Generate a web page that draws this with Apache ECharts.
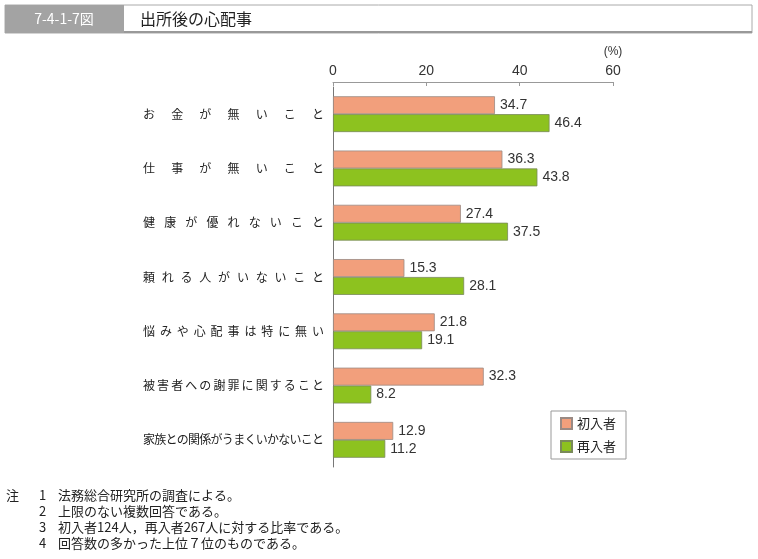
<!DOCTYPE html>
<html><head><meta charset="utf-8">
<script src="https://cdn.jsdelivr.net/npm/echarts@6/dist/echarts.min.js"></script>
<style>html,body{margin:0;padding:0;background:#fff}#c{width:758px;height:559px}</style>
</head><body><div id="c"></div>
<script>
const categories = ['お金が無いこと','仕事が無いこと','健康が優れないこと','頼れる人がいないこと','悩みや心配事は特に無い','被害者への謝罪に関すること','家族との関係がうまくいかないこと'];
const firstTimers = [34.7, 36.3, 27.4, 15.3, 21.8, 32.3, 12.9];
const repeaters = [46.4, 43.8, 37.5, 28.1, 19.1, 8.2, 11.2];
const seriesNames = ['初入者','再入者'];
const xTicks = [0, 20, 40, 60];
const notes = ['法務総合研究所の調査による。','上限のない複数回答である。','初入者124人，再入者267人に対する比率である。','回答数の多かった上位７位のものである。'];

const FONT = '"Noto Sans CJK JP", "Noto Sans", sans-serif';
const NUMFONT = '"Liberation Sans", Arial, sans-serif';
const LABEL_W = 181, CHAR_W = 12;
const rich = { l: { width: CHAR_W, align: 'left', fontSize: 12, fontFamily: FONT, color: '#222' } };
categories.forEach((c, i) => {
  const n = c.length;
  rich['w' + i] = { width: (LABEL_W - CHAR_W) / (n - 1), align: 'left', fontSize: 12, fontFamily: FONT, color: '#222' };
});

const chart = echarts.init(document.getElementById('c'));
const noteGraphics = [];
const NOTEFONT = '13px ' + FONT;
noteGraphics.push({ type: 'text', left: 6, top: 489, style: { text: '注', font: NOTEFONT, fill: '#222' } });
notes.forEach((t, i) => {
  noteGraphics.push({ type: 'text', left: 39, top: 489 + i * 16, style: { text: String(i + 1), font: NOTEFONT, fill: '#222' } });
  noteGraphics.push({ type: 'text', left: 58, top: 489 + i * 16, style: { text: t, font: NOTEFONT, fill: '#222' } });
});

chart.setOption({
  animation: false,
  grid: { left: 333, right: 145, top: 87, bottom: 92 },
  xAxis: {
    type: 'value', position: 'top', offset: 5, min: 0, max: 60, interval: 20,
    axisLine: { show: true, lineStyle: { color: '#999', width: 1 } },
    axisTick: { show: true, inside: true, length: 4, lineStyle: { color: '#999' } },
    axisLabel: { fontSize: 14, color: '#333', fontFamily: NUMFONT, margin: 4,
      formatter: v => xTicks.includes(v) ? String(v) : '' },
    splitLine: { show: false },
    name: '(%)', nameLocation: 'end', nameGap: 0,
    nameTextStyle: { fontSize: 12, color: '#333', fontFamily: NUMFONT, align: 'center', verticalAlign: 'bottom', padding: [0, 0, 24, 0] }
  },
  yAxis: {
    type: 'category', inverse: true, data: categories,
    axisLine: { show: true, lineStyle: { color: '#777', width: 1 } },
    axisTick: { show: false },
    axisLabel: { margin: 9, rich: rich,
      formatter: (v) => {
        const idx = categories.indexOf(v);
        const chars = Array.from(v);
        return chars.map((ch, k) => k < chars.length - 1 ? '{w' + idx + '|' + ch + '}' : '{l|' + ch + '}').join('');
      } }
  },
  legend: {
    orient: 'vertical', left: 551, top: 411, itemWidth: 11, itemHeight: 11, itemGap: 10, icon: 'rect',
    borderColor: '#999', borderWidth: 1, padding: [6, 10, 6, 9],
    textStyle: { fontSize: 13, fontFamily: FONT, color: '#222' },
    data: seriesNames
  },
  series: [
    { name: seriesNames[0], type: 'bar', data: firstTimers, barGap: '0%', barCategoryGap: '34%',
      itemStyle: { color: '#F29F7C', borderColor: '#9a8a84', borderWidth: 0.8 },
      label: { show: true, position: 'right', distance: 5, fontSize: 14, fontFamily: NUMFONT, color: '#333', formatter: p => p.value.toFixed(1) } },
    { name: seriesNames[1], type: 'bar', data: repeaters,
      itemStyle: { color: '#8DC21F', borderColor: '#7a8a5a', borderWidth: 0.8 },
      label: { show: true, position: 'right', distance: 5, fontSize: 14, fontFamily: NUMFONT, color: '#333', formatter: p => p.value.toFixed(1) } }
  ],
  graphic: [
    { type: 'rect', shape: { x: 5, y: 5, width: 747, height: 28 }, style: { fill: '#fff', stroke: '#aaa', lineWidth: 1 } },
    { type: 'rect', shape: { x: 5, y: 31, width: 747, height: 2 }, style: { fill: '#999' } },
    { type: 'rect', shape: { x: 5, y: 5, width: 119, height: 28 }, style: { fill: '#a3a3a3' } },
    { type: 'text', x: 64, y: 19, style: { text: '7-4-1-7図', font: '14px ' + FONT, fill: '#fff', textAlign: 'center', textVerticalAlign: 'middle' } },
    { type: 'text', x: 140, y: 19, style: { text: '出所後の心配事', font: '16px ' + FONT, fill: '#222', textVerticalAlign: 'middle' } }
  ].concat(noteGraphics)
});
</script></body></html>
